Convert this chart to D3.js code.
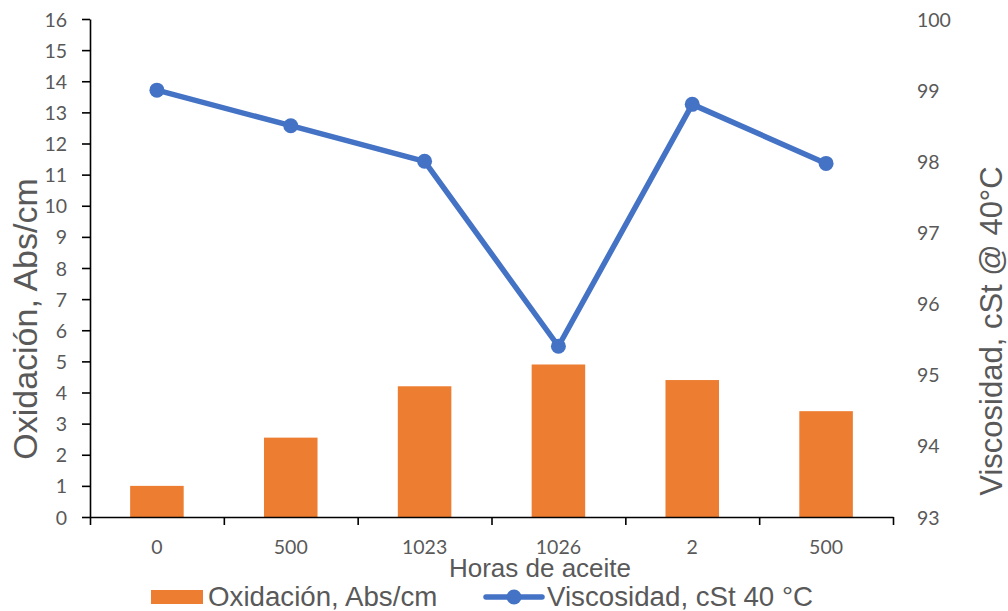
<!DOCTYPE html>
<html>
<head>
<meta charset="utf-8">
<script src="https://cdn.jsdelivr.net/npm/d3@7"></script>
<style>
  html, body { margin: 0; padding: 0; background: #fff; }
  svg { display: block; }
  .tick text { font-family: Lato, "Open Sans", sans-serif; font-size: 19.5px; fill: #595959; }
  .title { font-family: "Liberation Sans", Arial, sans-serif; fill: #595959; }
</style>
</head>
<body>
<svg id="chart" width="1008" height="611"></svg>
<script>
// Hours of oil use (category labels along the x axis)
const categories = ["0", "500", "1023", "1026", "2", "500"];
// Oxidation, Abs/cm (bars, left axis)
const oxidacion = [1.0, 2.55, 4.2, 4.9, 4.4, 3.4];
// Viscosity, cSt @ 40 °C (line, right axis)
const viscosidad = [99.0, 98.5, 98.0, 95.4, 98.8, 97.97];
// Axis ticks
const leftTicks = d3.range(0, 17, 1);
const rightTicks = d3.range(93, 101, 1);

const colorBar = "#ED7D31";
const colorLine = "#4472C4";
const axisColor = "#000000";

const svg = d3.select("#chart");
const plot = { left: 90, right: 893, top: 19, bottom: 517 };

const idx = categories.map((d, i) => i);
const x = d3.scaleBand().domain(idx).range([plot.left, plot.right])
  .paddingInner(0.6).paddingOuter(0.3);
const xEdge = d3.scaleLinear().domain([0, categories.length]).range([plot.left, plot.right]);
const yL = d3.scaleLinear().domain([0, 16]).range([plot.bottom, plot.top]);
const yR = d3.scaleLinear().domain([93, 100]).range([plot.bottom, plot.top]);

// Bars
svg.append("g").selectAll("rect").data(oxidacion).join("rect")
  .attr("x", (d, i) => x(i))
  .attr("width", x.bandwidth())
  .attr("y", d => yL(d))
  .attr("height", d => yL(0) - yL(d))
  .attr("fill", colorBar);

// Left axis
const gL = svg.append("g").attr("transform", `translate(${plot.left},0)`)
  .call(d3.axisLeft(yL).tickValues(leftTicks).tickFormat(d3.format("d"))
    .tickSize(8).tickPadding(15).tickSizeOuter(0));
gL.select(".domain").attr("stroke", axisColor).attr("stroke-width", 1.6);
gL.selectAll(".tick line").attr("stroke", axisColor).attr("stroke-width", 1.6);
gL.selectAll(".tick text").attr("dy", "0.36em");

// Bottom axis: tick marks at category boundaries
const gB = svg.append("g").attr("transform", `translate(0,${plot.bottom})`)
  .call(d3.axisBottom(xEdge).tickValues(d3.range(0, categories.length + 1))
    .tickSize(8).tickFormat("").tickSizeOuter(0));
gB.select(".domain").attr("stroke", axisColor).attr("stroke-width", 1.6);
gB.selectAll(".tick line").attr("stroke", axisColor).attr("stroke-width", 1.6);

// Category labels at band centres
const gC = svg.append("g").attr("transform", `translate(0,${plot.bottom})`)
  .call(d3.axisBottom(x).tickSize(0).tickPadding(0).tickFormat(i => categories[i]));
gC.select(".domain").remove();
gC.selectAll(".tick text").attr("dy", null).attr("y", 37);

// Right axis (labels only)
const gR = svg.append("g").attr("transform", `translate(${plot.right},0)`)
  .call(d3.axisRight(yR).tickValues(rightTicks).tickFormat(d3.format("d"))
    .tickSize(0).tickPadding(24));
gR.select(".domain").remove();
gR.selectAll(".tick text").attr("dy", "0.36em");

// Viscosity line with markers
const line = d3.line().x((d, i) => x(i) + x.bandwidth() / 2).y(d => yR(d));
svg.append("path").datum(viscosidad)
  .attr("d", line).attr("fill", "none")
  .attr("stroke", colorLine).attr("stroke-width", 5.5)
  .attr("stroke-linejoin", "round");
svg.append("g").selectAll("circle").data(viscosidad).join("circle")
  .attr("cx", (d, i) => x(i) + x.bandwidth() / 2)
  .attr("cy", d => yR(d))
  .attr("r", 7.5)
  .attr("fill", colorLine);

// Axis titles
svg.append("text").attr("class", "title")
  .attr("transform", "translate(37,319) rotate(-90)")
  .attr("text-anchor", "middle").attr("font-size", 34)
  .text("Oxidación, Abs/cm");
svg.append("text").attr("class", "title")
  .attr("transform", "translate(1002,331) rotate(-90)")
  .attr("text-anchor", "middle").attr("font-size", 31)
  .text("Viscosidad, cSt @ 40°C");
svg.append("text").attr("class", "title")
  .attr("x", 540).attr("y", 577)
  .attr("text-anchor", "middle").attr("font-size", 26)
  .text("Horas de aceite");

// Legend
const lg = svg.append("g");
lg.append("rect").attr("x", 151).attr("y", 590).attr("width", 52).attr("height", 14).attr("fill", colorBar);
lg.append("text").attr("class", "title").attr("x", 208).attr("y", 606).attr("font-size", 27.7)
  .text("Oxidación, Abs/cm");
lg.append("line").attr("x1", 486).attr("x2", 542).attr("y1", 597).attr("y2", 597)
  .attr("stroke", colorLine).attr("stroke-width", 5.5).attr("stroke-linecap", "round");
lg.append("circle").attr("cx", 514).attr("cy", 597).attr("r", 7.5).attr("fill", colorLine);
lg.append("text").attr("class", "title").attr("x", 547).attr("y", 606).attr("font-size", 27.7)
  .text("Viscosidad, cSt 40 °C");
</script>
</body>
</html>
